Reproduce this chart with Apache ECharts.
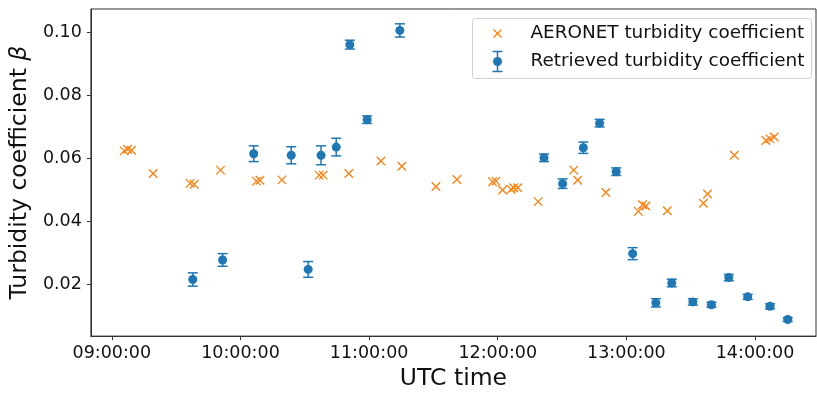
<!DOCTYPE html>
<html>
<head>
<meta charset="utf-8">
<script src="https://cdn.jsdelivr.net/npm/echarts@6/dist/echarts.min.js"></script>
<style>
  html, body { margin: 0; padding: 0; background: #fff; }
  #chart { width: 817px; height: 396px; }
</style>
</head>
<body>
<div id="chart"></div>
<script>
  // Retrieved turbidity coefficient (with error bars)
  const retrievedTimes = ['09:37:45', '09:51:40', '10:06:10', '10:23:40', '10:31:35', '10:37:35', '10:44:40', '10:51:00',
    '10:59:05', '11:14:20', '12:21:35', '12:30:15', '12:39:55', '12:47:30', '12:55:15', '13:02:55', '13:13:45',
    '13:21:10', '13:31:00', '13:39:40', '13:47:45', '13:56:35', '14:07:00', '14:15:15']
  const retrievedValues = [0.0215, 0.0277, 0.0614, 0.0609, 0.0247, 0.0609, 0.0635, 0.0960,
    0.0722, 0.1005, 0.0601, 0.0519, 0.0633, 0.0711, 0.0557, 0.0297, 0.0141,
    0.0204, 0.0144, 0.0135, 0.0221, 0.0160, 0.0130, 0.0088]
  const retrievedErrors = [0.0021, 0.0020, 0.0025, 0.0027, 0.0025, 0.0030, 0.0028, 0.0014,
    0.0012, 0.0021, 0.0012, 0.0015, 0.0018, 0.0012, 0.0012, 0.0019, 0.0013,
    0.0012, 0.0010, 0.0008, 0.0010, 0.0008, 0.0008, 0.0006]

  // AERONET turbidity coefficient
  const aeronetTimes = ['09:05:45', '09:07:20', '09:09:10', '09:19:15', '09:36:30', '09:38:25', '09:50:40', '10:07:25',
    '10:09:05', '10:19:20', '10:36:40', '10:38:35', '10:50:30', '11:05:30', '11:15:15', '11:31:10', '11:40:55',
    '11:57:35', '11:59:10', '12:02:15', '12:06:10', '12:07:25', '12:09:20', '12:18:50', '12:35:25', '12:37:15',
    '12:50:25', '13:05:35', '13:07:30', '13:09:05', '13:19:05', '13:35:55', '13:37:50', '13:50:20', '14:05:05',
    '14:07:00', '14:08:55']
  const aeronetValues = [0.0623, 0.0628, 0.0625, 0.0551, 0.0520, 0.0517, 0.0562, 0.0527,
    0.0530, 0.0531, 0.0546, 0.0546, 0.0551, 0.0591, 0.0574, 0.0510, 0.0532,
    0.0525, 0.0527, 0.0499, 0.0501, 0.0506, 0.0506, 0.0462, 0.0562, 0.0530,
    0.0491, 0.0431, 0.0452, 0.0448, 0.0433, 0.0457, 0.0486, 0.0609, 0.0656,
    0.0661, 0.0667]

  const xTickHours = [9, 10, 11, 12, 13, 14]
  const xTickLabels = ['09:00:00', '10:00:00', '11:00:00', '12:00:00', '13:00:00', '14:00:00']
  const yTicks = [0.02, 0.04, 0.06, 0.08, 0.10]

  const BLUE = '#1f77b4'
  const ORANGE = '#ff7f0e'
  const FONT = 'DejaVu Sans'

  // 'HH:MM:SS' -> hours
  function toHours(s) {
    const p = s.split(':').map(Number)
    return p[0] + p[1] / 60 + p[2] / 3600
  }

  const retrievedData = retrievedTimes.map((t, i) => [toHours(t), retrievedValues[i]])
  const errorData = retrievedTimes.map((t, i) => [toHours(t), retrievedValues[i] - retrievedErrors[i], retrievedValues[i] + retrievedErrors[i]])
  const aeronetData = aeronetTimes.map((t, i) => [toHours(t), aeronetValues[i]])

  const chart = echarts.init(document.getElementById('chart'))
  const option = {
    animation: false,
    textStyle: { fontFamily: FONT },
    grid: {
      left: 90, right: 1, top: 9, bottom: 57,
      show: true, borderColor: '#333', borderWidth: 1
    },
    xAxis: {
      type: 'value',
      min: 8.837,
      max: 14.474,
      name: 'UTC time',
      nameLocation: 'middle',
      nameGap: 29,
      nameTextStyle: { fontSize: 23.5, color: '#111', fontFamily: FONT },
      splitLine: { show: false },
      axisLine: { show: true, lineStyle: { color: '#333', width: 1 } },
      axisTick: { show: true, length: 4, lineStyle: { color: '#333' }, customValues: xTickHours },
      axisLabel: {
        customValues: xTickHours,
        margin: 8,
        fontSize: 17.5,
        color: '#111',
        fontFamily: FONT,
        formatter: v => xTickLabels[xTickHours.indexOf(Math.round(v))]
      }
    },
    yAxis: {
      type: 'value',
      min: 0.00355,
      max: 0.1073,
      name: '{a|Turbidity coefficient }{b|β}',
      nameLocation: 'middle',
      nameRotate: 90,
      nameGap: 53,
      nameTextStyle: {
        color: '#111',
        rich: {
          a: { fontSize: 23.5, fontFamily: FONT, color: '#111' },
          b: { fontSize: 23.5, fontFamily: FONT, fontStyle: 'italic', color: '#111' }
        }
      },
      splitLine: { show: false },
      axisLine: { show: true, lineStyle: { color: '#333', width: 1 } },
      axisTick: { show: true, length: 4, lineStyle: { color: '#333' }, customValues: yTicks },
      axisLabel: {
        customValues: yTicks,
        margin: 9,
        fontSize: 17.5,
        color: '#111',
        fontFamily: FONT,
        formatter: v => v.toFixed(2)
      }
    },
    series: [
      {
        name: 'AERONET turbidity coefficient',
        type: 'scatter',
        data: aeronetData,
        symbol: 'path://M0,0L10,10M10,0L0,10',
        symbolSize: 8.5,
        itemStyle: { color: 'none', borderColor: ORANGE, borderWidth: 1.3, opacity: 1 },
        z: 3
      },
      {
        name: 'errors',
        type: 'custom',
        data: errorData,
        renderItem: function (params, api) {
          const x = api.value(0)
          const lo = api.coord([x, api.value(1)])
          const hi = api.coord([x, api.value(2)])
          const cap = 5
          const style = { stroke: BLUE, lineWidth: 1.5 }
          return {
            type: 'group',
            children: [
              { type: 'line', shape: { x1: lo[0], y1: lo[1], x2: hi[0], y2: hi[1] }, style },
              { type: 'line', shape: { x1: lo[0] - cap, y1: lo[1], x2: lo[0] + cap, y2: lo[1] }, style },
              { type: 'line', shape: { x1: hi[0] - cap, y1: hi[1], x2: hi[0] + cap, y2: hi[1] }, style }
            ]
          }
        },
        z: 4
      },
      {
        name: 'Retrieved turbidity coefficient',
        type: 'scatter',
        data: retrievedData,
        symbol: 'circle',
        symbolSize: 9,
        itemStyle: { color: BLUE, opacity: 1 },
        z: 5
      }
    ],
    graphic: [
      {
        type: 'group',
        left: 472,
        top: 18,
        z: 100,
        children: [
          { type: 'rect', shape: { x: 0, y: 0, width: 339, height: 60, r: 3 },
            style: { fill: 'rgba(255,255,255,0.8)', stroke: '#d0d0d0', lineWidth: 1 } },
          { type: 'line', shape: { x1: 21, y1: 11, x2: 29, y2: 19 }, style: { stroke: ORANGE, lineWidth: 1.3 } },
          { type: 'line', shape: { x1: 29, y1: 11, x2: 21, y2: 19 }, style: { stroke: ORANGE, lineWidth: 1.3 } },
          { type: 'text', x: 58, y: 15, style: { text: 'AERONET turbidity coefficient', font: '18.4px "DejaVu Sans"', fill: '#111', textVerticalAlign: 'middle' } },
          { type: 'line', shape: { x1: 25, y1: 33, x2: 25, y2: 53 }, style: { stroke: BLUE, lineWidth: 1.5 } },
          { type: 'line', shape: { x1: 20, y1: 33, x2: 30, y2: 33 }, style: { stroke: BLUE, lineWidth: 1.5 } },
          { type: 'line', shape: { x1: 20, y1: 53, x2: 30, y2: 53 }, style: { stroke: BLUE, lineWidth: 1.5 } },
          { type: 'circle', shape: { cx: 25, cy: 43, r: 4.5 }, style: { fill: BLUE } },
          { type: 'text', x: 58, y: 43, style: { text: 'Retrieved turbidity coefficient', font: '18.4px "DejaVu Sans"', fill: '#111', textVerticalAlign: 'middle' } }
        ]
      }
    ]
  }
  chart.setOption(option)
</script>
</body>
</html>
